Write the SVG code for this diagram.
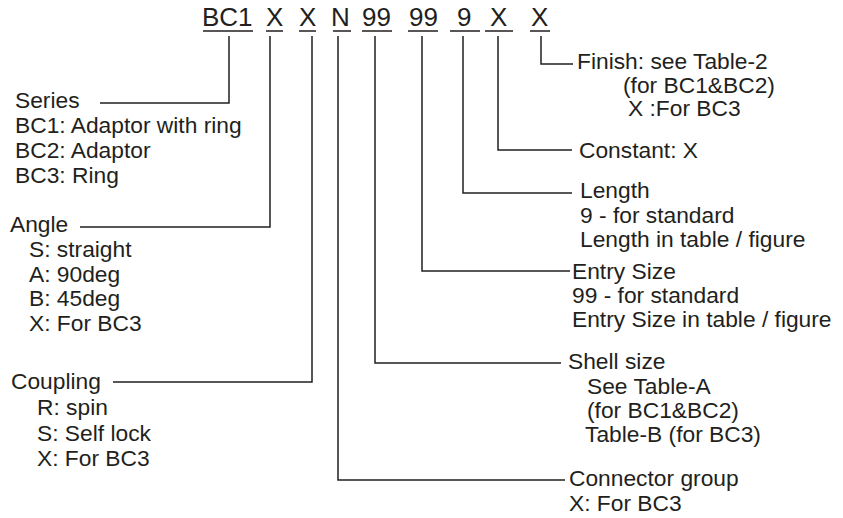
<svg xmlns="http://www.w3.org/2000/svg" width="843" height="518" viewBox="0 0 843 518">
<style>
text{font-family:"Liberation Sans",Arial,sans-serif;font-size:21.5px;fill:#231f20}
.code{font-size:26px}
.ln{fill:none;stroke:#231f20;stroke-width:1.5}
</style>
<rect width="843" height="518" fill="#fff"/>
<g id="code">
<text class="code" x="202" y="26">BC1</text>
<text class="code" x="266" y="26">X</text>
<text class="code" x="299" y="26">X</text>
<text class="code" x="331" y="26">N</text>
<text class="code" x="362" y="26">99</text>
<text class="code" x="409" y="26">99</text>
<text class="code" x="457" y="26">9</text>
<text class="code" x="490" y="26">X</text>
<text class="code" x="531" y="26">X</text>
<path class="ln" d="M203,31H253M266,31H283M299,31H316M333,31H351M362,31H392M408,31H438M450,31H480M485,31H513M530,31H550"/>
</g>
<g id="series">
<text transform="translate(15,108) scale(1.06,1)">Series</text>
<text transform="translate(15,133) scale(1.06,1)">BC1: Adaptor with ring</text>
<text transform="translate(15,158) scale(1.06,1)">BC2: Adaptor</text>
<text transform="translate(15,183) scale(1.06,1)">BC3: Ring</text>
</g>
<g id="angle">
<text transform="translate(10,232) scale(1.06,1)">Angle</text>
<text transform="translate(29,257) scale(1.06,1)">S: straight</text>
<text transform="translate(29,282) scale(1.06,1)">A: 90deg</text>
<text transform="translate(29,306) scale(1.06,1)">B: 45deg</text>
<text transform="translate(29,331) scale(1.06,1)">X: For BC3</text>
</g>
<g id="coupling">
<text transform="translate(11,389) scale(1.06,1)">Coupling</text>
<text transform="translate(37,415) scale(1.06,1)">R: spin</text>
<text transform="translate(37,441) scale(1.06,1)">S: Self lock</text>
<text transform="translate(37,466) scale(1.06,1)">X: For BC3</text>
</g>
<g id="finish">
<text transform="translate(577,69) scale(1.06,1)">Finish: see Table-2</text>
<text transform="translate(623,93) scale(1.06,1)">(for BC1&amp;BC2)</text>
<text transform="translate(628,116) scale(1.06,1)">X :For BC3</text>
</g>
<g id="constant">
<text transform="translate(579,158) scale(1.06,1)">Constant: X</text>
</g>
<g id="length">
<text transform="translate(580,198) scale(1.06,1)">Length</text>
<text transform="translate(580,223) scale(1.06,1)">9 - for standard</text>
<text transform="translate(580,247) scale(1.06,1)">Length in table / figure</text>
</g>
<g id="entry-size">
<text transform="translate(572,279) scale(1.06,1)">Entry Size</text>
<text transform="translate(572,303) scale(1.06,1)">99 - for standard</text>
<text transform="translate(572,327) scale(1.06,1)">Entry Size in table / figure</text>
</g>
<g id="shell-size">
<text transform="translate(568,369) scale(1.06,1)">Shell size</text>
<text transform="translate(587,394) scale(1.06,1)">See Table-A</text>
<text transform="translate(587,418) scale(1.06,1)">(for BC1&amp;BC2)</text>
<text transform="translate(585,442) scale(1.06,1)">Table-B (for BC3)</text>
</g>
<g id="connector-group">
<text transform="translate(569,486) scale(1.06,1)">Connector group</text>
<text transform="translate(569,511) scale(1.06,1)">X: For BC3</text>
</g>
<g id="connectors">
<path class="ln" d="M229,36V103H100"/>
<path class="ln" d="M270,36V227H80"/>
<path class="ln" d="M312,36V382H113"/>
<path class="ln" d="M338,36V480H565"/>
<path class="ln" d="M375,36V363H561"/>
<path class="ln" d="M422,36V271H570"/>
<path class="ln" d="M463,36V193H572"/>
<path class="ln" d="M498,36V150H572"/>
<path class="ln" d="M541,36V64H573"/>
</g>
</svg>
